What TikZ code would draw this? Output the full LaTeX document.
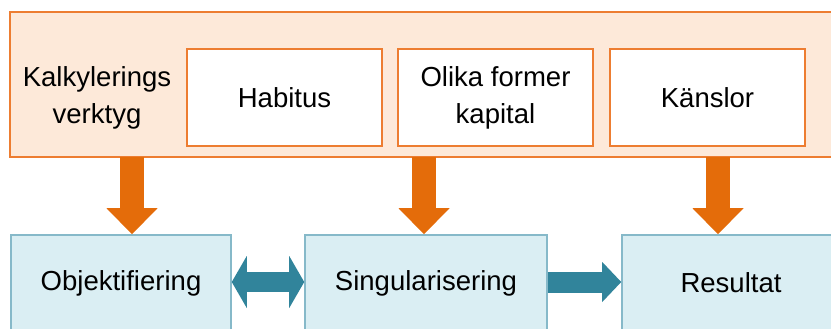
\documentclass[tikz,border=0pt]{standalone}
\usepackage{fontspec}
\setmainfont{Liberation Sans}
\usetikzlibrary{arrows.meta, positioning}

\definecolor{frameorange}{HTML}{ED7D31}
\definecolor{framefill}{HTML}{FDE9D9}
\definecolor{arroworange}{HTML}{E46C0A}
\definecolor{stagefill}{HTML}{DAEEF3}
\definecolor{stageline}{HTML}{86B9C9}
\definecolor{flowteal}{HTML}{31849B}

\begin{document}
\begin{tikzpicture}[
    every node/.style={font=\fontsize{23.5}{31.6}\selectfont, align=center, inner sep=0pt},
    toolframe/.style={draw=frameorange, fill=framefill, line width=1.6pt,
        minimum width=25.2cm, minimum height=4.35cm},
    factor/.style={draw=frameorange, fill=white, line width=1.3pt,
        minimum width=5.85cm, minimum height=2.91cm},
    stage/.style={draw=stageline, fill=stagefill, line width=1.3pt,
        minimum height=2.88cm},
    toolarrow/.style={arroworange, line width=0.72cm,
        -{Triangle[width=1.53cm, length=0.78cm, line width=0pt]}},
    flowarrow/.style={flowteal, line width=0.6cm,
        {Triangle[width=1.56cm, length=0.45cm, line width=0pt]}-{Triangle[width=1.56cm, length=0.45cm, line width=0pt]}},
    nextarrow/.style={flowteal, line width=0.63cm,
        -{Triangle[width=1.2cm, length=0.57cm, line width=0pt]}},
]
\useasboundingbox (0,0) rectangle (24.93,-9.87);

% Calculation tools
\node[toolframe] (tools) at (12.9,-2.535) {};
\node (label) at (2.91,-2.94) {Kalkylerings\\verktyg};
\node[factor] (habitus) at (8.535,-2.925) {Habitus};
\node[factor] (kapital) at (14.865,-2.925) {Olika former\\kapital};
\node[factor] (kanslor) at (21.225,-2.925) {Känslor};

% Process stages
\node[stage, minimum width=6.6cm] (objekt) at (3.63,-8.49) {Objektifiering};
\node[stage, minimum width=7.26cm] (singular) at (12.78,-8.49) {Singularisering};
\node[stage, minimum width=6.54cm] (resultat) at (21.93,-8.49) {Resultat};

% Arrows from the tools
\coordinate (t1) at (3.96,-4.71);
\coordinate (t2) at (12.72,-4.71);
\coordinate (t3) at (21.54,-4.71);
\draw[toolarrow] (t1) -- (t1 |- objekt.north);
\draw[toolarrow] (t2) -- (t2 |- singular.north);
\draw[toolarrow] (t3) -- (t3 |- resultat.north);

% Flow between stages
\draw[flowarrow] ([yshift=0.03cm]objekt.east) -- ([yshift=0.03cm]singular.west);
\draw[nextarrow] ([yshift=0.03cm]singular.east) -- ([yshift=0.03cm]resultat.west);

\end{tikzpicture}
\end{document}
